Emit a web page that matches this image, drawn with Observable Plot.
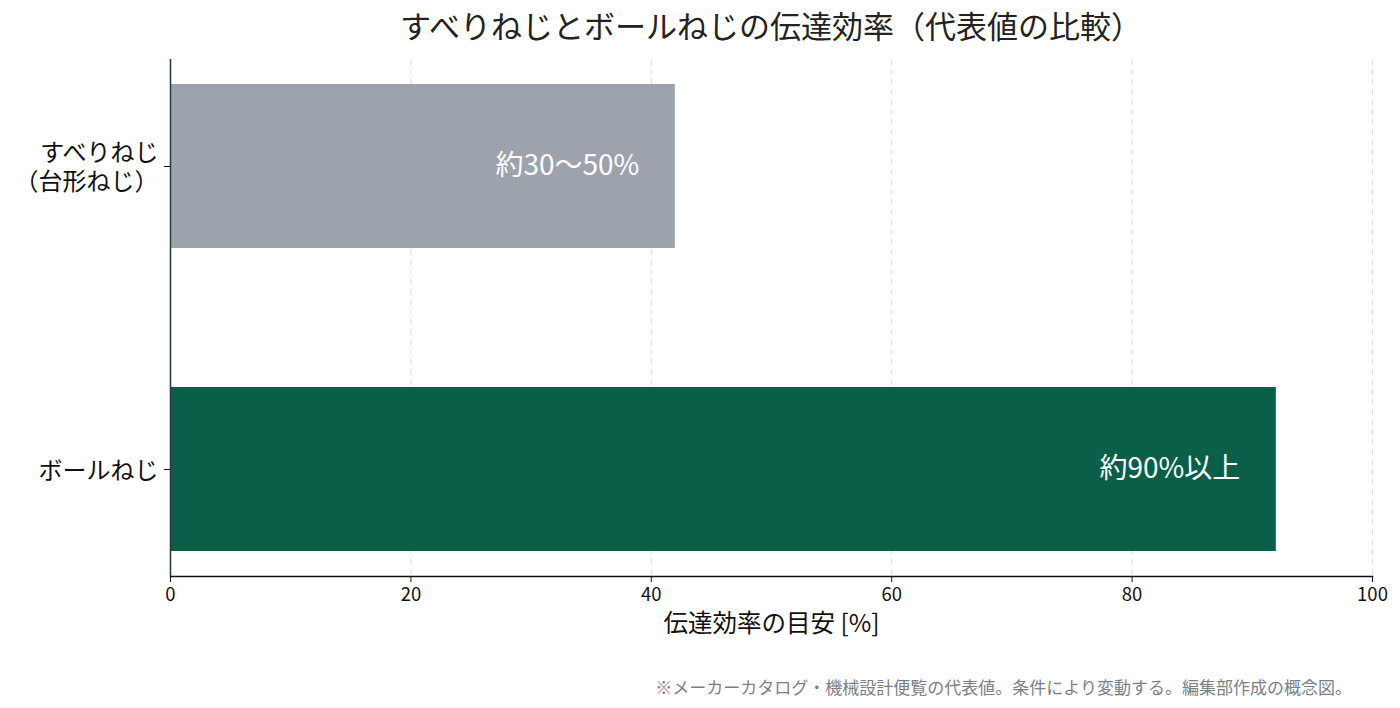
<!DOCTYPE html>
<html><head><meta charset="utf-8">
<script src="https://cdn.jsdelivr.net/npm/d3@7"></script>
<script src="https://cdn.jsdelivr.net/npm/@observablehq/plot@0.6"></script>
<style>
body{margin:0;background:#fff;font-family:"Noto Sans CJK JP","Noto Sans",sans-serif;}
#wrap{position:relative;width:1400px;height:708px;}
#title{position:absolute;left:170px;width:1202px;top:2px;text-align:center;font-size:31px;color:#222;}
#chart{position:absolute;left:0;top:50px;}
#caption{position:absolute;right:48px;top:674px;font-size:17px;color:#7a7f87;}
</style></head>
<body>
<div id="wrap">
<div id="title">すべりねじとボールねじの伝達効率（代表値の比較）</div>
<div id="chart"></div>
<div id="caption">※メーカーカタログ・機械設計便覧の代表値。条件により変動する。編集部作成の概念図。</div>
</div>
<script>
const categories = ["すべりねじ\n（台形ねじ）", "ボールねじ"];
const values = [42, 92];
const labels = ["約30〜50%", "約90%以上"];
const colors = ["#9ca3ad", "#0a5f48"];
const xTicks = [0, 20, 40, 60, 80, 100];

const data = categories.map((c, i) => ({cat: c, value: values[i], label: labels[i], color: colors[i]}));

const plot = Plot.plot({
  width: 1400,
  height: 610,
  marginLeft: 170,
  marginRight: 28,
  marginTop: 9,
  marginBottom: 84,
  style: {fontFamily: '"Noto Sans CJK JP","Noto Sans",sans-serif', fontSize: "18px", color: "#111", background: "#fff"},
  x: {domain: [0, 100], ticks: xTicks, label: null},
  y: {domain: categories, paddingInner: 0.46, paddingOuter: 0.082, label: null},
  marks: [
    Plot.ruleX(xTicks.filter(d => d > 0), {stroke: "#dddddd", strokeDasharray: "6,4", strokeWidth: 1}),
    Plot.barX(data, {x: "value", y: "cat", fill: "color"}),
    Plot.text(data, {x: "value", y: "cat", text: "label", fill: "white", textAnchor: "end", dx: -36, fontSize: 28}),
    Plot.axisX({ticks: xTicks, tickSize: 6, tickPadding: 5, fontSize: 18.5, stroke: "#111", label: null}),
    Plot.frame({anchor: "bottom", stroke: "#111", strokeWidth: 1.5}),
    Plot.axisY({tickSize: 6, tickPadding: 6, fontSize: 24, label: null, lineHeight: 1.2}),
    Plot.ruleX([0], {stroke: "#1e3d36", strokeWidth: 1.5}),
    Plot.text(["伝達効率の目安 [%]"], {frameAnchor: "bottom", dy: 55, fontSize: 24.5, fill: "#111"})
  ]
});
document.getElementById("chart").appendChild(plot);
</script>
</body></html>
